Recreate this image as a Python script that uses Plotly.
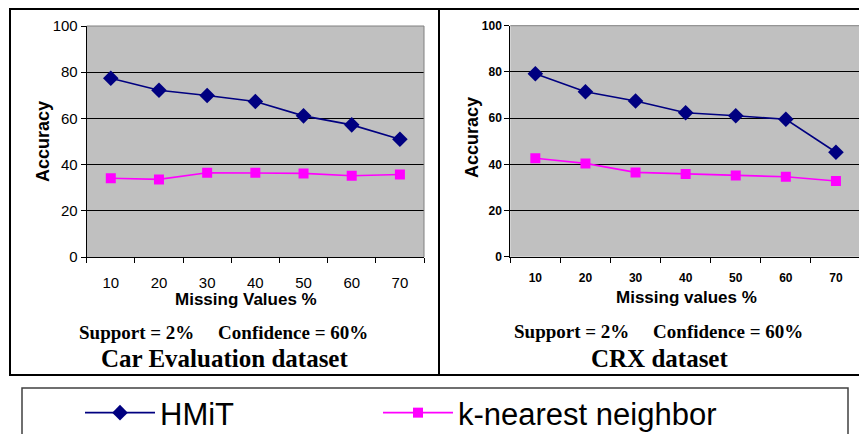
import plotly.graph_objects as go

# The page body has an 8px default margin, so the figure is drawn 8px in
# from the window's top-left corner; size it to fill the remaining area.
OFF = 8
W, H = 867 - OFF, 434 - OFF

categories = ["10", "20", "30", "40", "50", "60", "70"]
car_hmit = [77.4, 72.2, 69.9, 67.3, 61.1, 57.2, 51.0]
car_knn = [34.1, 33.6, 36.5, 36.5, 36.2, 35.2, 35.7]
crx_hmit = [79.2, 71.4, 67.4, 62.3, 61.0, 59.5, 45.2]
crx_knn = [42.6, 40.4, 36.5, 35.8, 35.2, 34.6, 32.8]
yticks = [0, 20, 40, 60, 80, 100]

SANS = "Liberation Sans, Arial, sans-serif"
SERIF = "Liberation Serif, Times New Roman, serif"
NAVY = "#000080"
MAG = "#FF00FF"


def px(x):
    return (x - OFF) / W


def py(y):
    return 1 - (y - OFF) / H


fig = go.Figure()

for i, (h, k) in enumerate([(car_hmit, car_knn), (crx_hmit, crx_knn)]):
    xa = "x" if i == 0 else "x2"
    ya = "y" if i == 0 else "y2"
    fig.add_trace(go.Scatter(
        x=categories, y=h, xaxis=xa, yaxis=ya, mode="lines+markers",
        name="HMiT", legendgroup="h", showlegend=(i == 0), legend="legend",
        line=dict(color=NAVY, width=1.6),
        marker=dict(symbol="diamond", size=12, color=NAVY)))
    fig.add_trace(go.Scatter(
        x=categories, y=k, xaxis=xa, yaxis=ya, mode="lines+markers",
        name="k-nearest neighbor", legendgroup="k", showlegend=(i == 0), legend="legend2",
        line=dict(color=MAG, width=1.6),
        marker=dict(symbol="square", size=10, color=MAG)))

plots = [
    dict(x0=86.7, x1=424, y0=26, y1=257, tf=dict(family=SANS, size=15, color="black"), stand=12),
    dict(x0=510.3, x1=861, y0=25.7, y1=256.7, tf=dict(family=SANS, size=12, color="black", weight="bold"), stand=10),
]

layout_axes = {}
shapes = []
for i, p in enumerate(plots):
    sfx = "" if i == 0 else "2"
    layout_axes["xaxis" + sfx] = dict(
        domain=[px(p["x0"]), px(p["x1"])], anchor="y" + sfx,
        type="category", categoryorder="array", categoryarray=categories,
        range=[-0.5, 6.5], tickson="boundaries", ticks="outside", ticklen=5,
        tickcolor="black", showline=True, linecolor="black", linewidth=1,
        showgrid=False, zeroline=False, tickfont=p["tf"], ticklabelstandoff=p["stand"],
        fixedrange=True, automargin=False)
    layout_axes["yaxis" + sfx] = dict(
        domain=[py(p["y1"]), py(p["y0"])], anchor="x" + sfx,
        range=[0, 100], tickvals=yticks, ticks="outside", ticklen=5,
        tickcolor="black", showline=True, linecolor="black", linewidth=1,
        showgrid=True, gridcolor="black", gridwidth=1, zeroline=False,
        tickfont=p["tf"], fixedrange=True, automargin=False)
    # gray top and right plot borders
    shapes.append(dict(type="line", xref="paper", yref="paper", layer="above",
                       x0=px(p["x0"]), x1=px(p["x1"]), y0=py(p["y0"]), y1=py(p["y0"]),
                       line=dict(color="#808080", width=1)))
    shapes.append(dict(type="line", xref="paper", yref="paper", layer="above",
                       x0=px(p["x1"]), x1=px(p["x1"]), y0=py(p["y0"]), y1=py(p["y1"]),
                       line=dict(color="#808080", width=1)))

# panel frame
shapes.append(dict(type="rect", xref="paper", yref="paper",
                   x0=px(10), x1=px(866), y0=py(375), y1=py(9),
                   line=dict(color="black", width=2)))
shapes.append(dict(type="line", xref="paper", yref="paper",
                   x0=px(439), x1=px(439), y0=py(375), y1=py(9),
                   line=dict(color="black", width=2)))
# legend box
shapes.append(dict(type="rect", xref="paper", yref="paper",
                   x0=px(22), x1=px(848), y0=py(445), y1=py(388),
                   line=dict(color="#404040", width=1.5)))

NB = "\u00a0"
support = "Support = 2%" + NB * 5 + "Confidence = 60%"
ann = []


def add_text(text, x, y, font, angle=0):
    ann.append(dict(text=text, x=px(x), y=py(y), xref="paper", yref="paper",
                    showarrow=False, xanchor="center", yanchor="middle",
                    textangle=angle, font=font))


bold_sans = dict(family=SANS, size=18, color="black", weight="bold")
add_text("Accuracy", 43, 142, bold_sans, -90)
add_text("Accuracy", 472, 138, bold_sans, -90)
add_text("Missing Values %", 246, 299, dict(family=SANS, size=17, color="black", weight="bold"))
add_text("Missing values %", 686, 297, dict(family=SANS, size=17, color="black", weight="bold"))
add_text(support, 223, 332, dict(family=SERIF, size=19, color="black", weight="bold"))
add_text(support, 658, 331, dict(family=SERIF, size=19, color="black", weight="bold"))
add_text("Car Evaluation dataset", 224, 358, dict(family=SERIF, size=25, color="black", weight="bold"))
add_text("CRX dataset", 659, 358, dict(family=SERIF, size=25, color="black", weight="bold"))

legend_common = dict(orientation="h", yanchor="middle", xanchor="left",
                     font=dict(family=SANS, size=31, color="black"),
                     bgcolor="rgba(0,0,0,0)", borderwidth=0, itemwidth=70)

fig.update_layout(
    width=W, height=H, margin=dict(l=0, r=0, t=0, b=0, autoexpand=False),
    paper_bgcolor="white", plot_bgcolor="#C0C0C0",
    shapes=shapes, annotations=ann,
    showlegend=True,
    legend=dict(x=px(80), y=py(413), **legend_common),
    legend2=dict(x=px(378), y=py(413), **legend_common),
    **layout_axes,
)

fig.write_html("out.html")
